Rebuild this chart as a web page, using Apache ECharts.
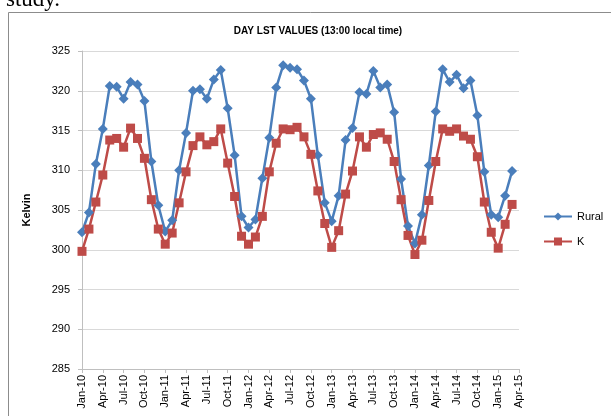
<!DOCTYPE html>
<html>
<head>
<meta charset="utf-8">
<script src="https://cdn.jsdelivr.net/npm/echarts@6/dist/echarts.min.js"></script>
<style>
  html, body { margin: 0; padding: 0; background: #fff; }
  #chart { width: 611px; height: 416px; }
</style>
</head>
<body>
<div id="chart"></div>
<script>
// month labels Jan-10 .. Apr-15
var monthNames = ['Jan', 'Feb', 'Mar', 'Apr', 'May', 'Jun', 'Jul', 'Aug', 'Sep', 'Oct', 'Nov', 'Dec'];
var years = ['10', '11', '12', '13', '14', '15'];
var lastMonthCount = 4; // 2015 ends at Apr

var yTicks = { min: 285, max: 325, step: 5 };

// Rural, Jan-10 .. Mar-15
var rural = [
  302.2, 304.7, 310.8, 315.2, 320.6, 320.5, 319.0, 321.1, 320.8, 318.7, 311.1, 305.6,
  302.3, 303.7, 310.0, 314.7, 320.0, 320.2, 319.0, 321.4, 322.6, 317.8, 311.9, 304.2,
  302.8, 303.8, 309.0, 314.1, 320.4, 323.2, 322.9, 322.7, 321.3, 319.0, 311.9, 305.9,
  303.6, 306.8, 313.8, 315.3, 319.8, 319.6, 322.5, 320.4, 320.8, 317.3, 308.9, 303.0,
  300.8, 304.4, 310.6, 317.4, 322.7, 321.1, 322.0, 320.3, 321.3, 316.9, 309.8, 304.4,
  304.1, 306.8, 309.9
];

// K, Jan-10 .. Mar-15
var kVals = [
  299.8, 302.6, 306.0, 309.4, 313.8, 314.0, 312.9, 315.3, 314.0, 311.5, 306.3, 302.6,
  300.7, 302.1, 305.9, 309.8, 313.1, 314.2, 313.2, 313.6, 315.2, 310.9, 306.7, 301.7,
  300.7, 301.6, 304.2, 309.8, 313.4, 315.2, 315.1, 315.4, 314.2, 312.0, 307.4, 303.3,
  300.3, 302.4, 307.0, 309.9, 314.2, 312.9, 314.5, 314.7, 313.9, 311.1, 306.3, 301.8,
  299.4, 301.2, 306.2, 311.1, 315.2, 314.9, 315.2, 314.3, 313.9, 311.7, 306.0, 302.2,
  300.2, 303.2, 305.7
];

var categories = [];
years.forEach(function (y, i) {
  var n = i === years.length - 1 ? lastMonthCount : 12;
  for (var m = 0; m < n; m++) categories.push(monthNames[m] + '-' + y);
});

var chart = echarts.init(document.getElementById('chart'), null, { renderer: 'canvas' });

var option = {
  backgroundColor: '#fff',
  animation: false,
  textStyle: { fontFamily: 'Liberation Sans, Arial, sans-serif' },
  title: {
    text: 'DAY LST VALUES (13:00 local time)',
    left: 313,
    top: 21,
    textAlign: 'center',
    textStyle: { fontSize: 10, fontWeight: 'bold', color: '#000', fontFamily: 'Liberation Sans Narrow, Liberation Sans, Arial' }
  },
  graphic: [
    {
      type: 'rect',
      shape: { x: 8.5, y: 12.5, width: 640, height: 440 },
      style: { fill: 'none', stroke: '#8c8c8c', lineWidth: 1 },
      z: -1
    },
    {
      type: 'text',
      left: 6,
      top: -12,
      style: { text: 'study.', font: '23px "Liberation Serif", serif', fill: '#000' }
    }
  ],
  legend: {
    orient: 'vertical',
    left: 538,
    top: 206,
    itemWidth: 28,
    itemHeight: 10,
    itemGap: 14,
    textStyle: { fontSize: 11, color: '#000' },
    data: ['Rural', 'K']
  },
  grid: { left: 82, top: 51, right: 92, bottom: 47 },
  xAxis: {
    type: 'category',
    data: categories,
    boundaryGap: false,
    axisLine: { lineStyle: { color: '#bfbfbf' } },
    axisTick: { interval: 2, length: 4, lineStyle: { color: '#bfbfbf' } },
    axisLabel: { interval: 2, rotate: 90, fontSize: 11, color: '#000', margin: 6 },
    splitLine: { show: false }
  },
  yAxis: {
    type: 'value',
    min: yTicks.min,
    max: yTicks.max,
    interval: yTicks.step,
    name: 'Kelvin',
    nameLocation: 'middle',
    nameGap: 50,
    nameRotate: 90,
    nameTextStyle: { fontSize: 11, fontWeight: 'bold', color: '#000' },
    axisLine: { show: true, lineStyle: { color: '#bfbfbf' } },
    axisTick: { show: true, length: 4, lineStyle: { color: '#bfbfbf' } },
    axisLabel: { fontSize: 11, color: '#000', margin: 12 },
    splitLine: { lineStyle: { color: '#d9d9d9', width: 1 } }
  },
  series: [
    {
      name: 'Rural',
      type: 'line',
      data: rural,
      showAllSymbol: true,
      symbol: 'diamond',
      symbolSize: 10,
      lineStyle: { color: '#4a7ebb', width: 2.5 },
      itemStyle: { color: '#4a7ebb' }
    },
    {
      name: 'K',
      type: 'line',
      data: kVals,
      showAllSymbol: true,
      symbol: 'rect',
      symbolSize: 9,
      lineStyle: { color: '#be4b48', width: 2.5 },
      itemStyle: { color: '#be4b48' }
    }
  ]
};

chart.setOption(option);
</script>
</body>
</html>
